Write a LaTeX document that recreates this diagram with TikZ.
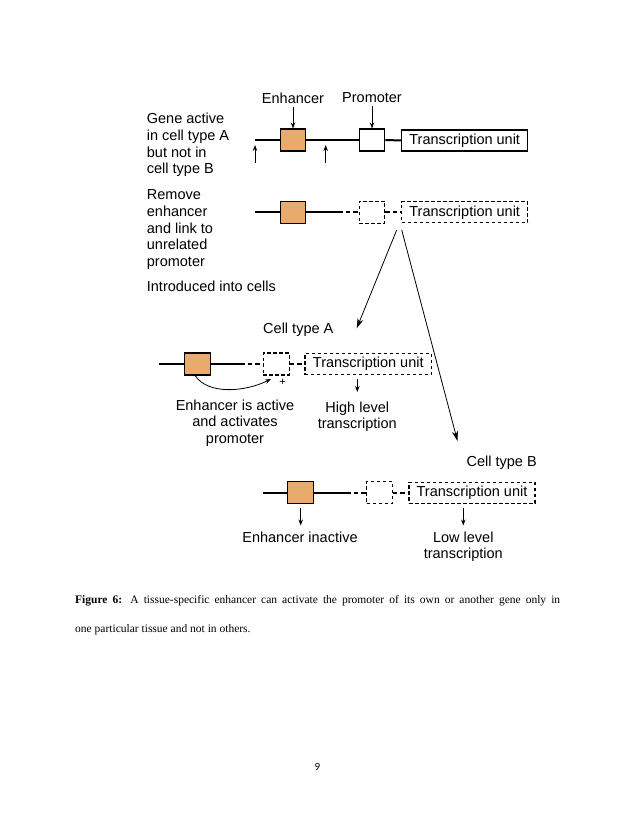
\documentclass[tikz,border=0pt]{standalone}
\usepackage{fontspec}
\setmainfont{Liberation Sans}
\newfontfamily\capfont{Liberation Serif}
\newfontfamily\pgfont{Carlito}
\usetikzlibrary{arrows.meta,calc}
\definecolor{enhcol}{RGB}{233,170,110}
\tikzset{
  lbl/.style={font=\fontsize{14.5}{16.7}\selectfont, inner sep=0pt},
  enh/.style={draw, line width=1.1pt, fill=enhcol, minimum width=25.7pt, minimum height=22pt, inner sep=0pt},
  prom/.style={draw, line width=1.1pt, fill=white, minimum width=25.7pt, minimum height=22pt, inner sep=0pt},
  tu/.style={draw, line width=1.1pt, fill=white, minimum width=126pt, minimum height=21pt, inner sep=0pt, font=\fontsize{14.5}{16.7}\selectfont},
  dbox/.style={dash pattern=on 3.5pt off 2.5pt},
  dna/.style={line width=2pt},
  ddna/.style={line width=2pt, dash pattern=on 4.5pt off 3pt},
  arr/.style={line width=0.9pt, -{Stealth[length=6pt,width=4.5pt]}},
  longarr/.style={line width=0.8pt, -{Stealth[length=10pt,width=6pt]}},
}
\begin{document}
\begin{tikzpicture}[x=1pt,y=-1pt]
\useasboundingbox (0,0) rectangle (638,826);
\fill[white] (0,0) rectangle (638,826);

% ---------- Row 1 ----------
\node[lbl] (lenh) at (293,98) {Enhancer};
\node[lbl] (lprom) at (372,98) {Promoter};
\coordinate (s1) at (255,140);
\node[enh] (enh1) at (293,140) {};
\node[prom] (prom1) at (372,140) {};
\node[tu] (tu1) at (464.7,140.5) {Transcription unit};
\draw[dna] (s1) -- (enh1.west);
\draw[dna] (enh1.east) -- (prom1.west);
\draw[dna] (prom1.east) -- (tu1.west);
\draw[arr] (lenh.south) ++(0,3) -- (enh1.north);
\draw[arr] (lprom.south) ++(0,3) -- (prom1.north);
\coordinate (u1a) at (255,163); \coordinate (u1b) at (255,145);
\coordinate (u2a) at (325.7,163); \coordinate (u2b) at (325.7,145);
\draw[arr] (u1a) -- (u1b);
\draw[arr] (u2a) -- (u2b);

\node[lbl, align=left, anchor=north west] (t1) at (146.7,113) {Gene active\\in cell type A\\but not in\\cell type B};
\node[lbl, align=left, anchor=north west] (t2) at (146.7,189.7) {Remove\\enhancer\\and link to\\unrelated\\promoter};
\node[lbl, anchor=west] (t3) at (146.7,286.7) {Introduced into cells};

% ---------- Row 2 ----------
\coordinate (s2) at (255,212.3);
\coordinate (d2) at (338.3,212.3);
\node[enh] (enh2) at (293,212.3) {};
\node[prom,dbox] (prom2) at (372,212.3) {};
\node[tu,dbox] (tu2) at (464.7,212.3) {Transcription unit};
\draw[dna] (s2) -- (enh2.west);
\draw[dna] (enh2.east) -- (d2);
\draw[ddna] (d2) -- (prom2.west);
\draw[ddna] (prom2.east) -- (tu2.west);

\coordinate (f1) at (396.7,230);
\coordinate (f2) at (401.7,230);
\coordinate (tipA) at (356.7,328.3);
\coordinate (tipB) at (457.5,441);
\draw[longarr] (f1) -- (tipA);
\draw[longarr] (f2) -- (tipB);

% ---------- Cell type A ----------
\node[lbl] (cA) at (298.3,330) {Cell type A};
\coordinate (sA) at (159.3,364);
\coordinate (dA) at (240,364);
\node[enh] (enhA) at (197.5,364) {};
\node[prom,dbox] (promA) at (276.2,364) {};
\node[tu,dbox, minimum width=126.7pt] (tuA) at (368.3,364) {Transcription unit};
\draw[dna] (sA) -- (enhA.west);
\draw[dna] (enhA.east) -- (dA);
\draw[ddna] (dA) -- (promA.west);
\draw[ddna] (promA.east) -- (tuA.west);
\coordinate (cstart) at (195,375.5);
\coordinate (cend) at (271,379);
\draw[line width=0.8pt, -{Stealth[length=6pt,width=4.5pt]}] (cstart) .. controls (208,395) and (245,392) .. (cend);
\node[font=\fontsize{11}{12}\selectfont, inner sep=0pt] (plus) at (282.7,382.7) {+};
\coordinate (aA1) at (357.3,379.3); \coordinate (aA2) at (357.3,392);
\draw[arr] (aA1) -- (aA2);
\node[lbl, align=center, anchor=north] (tA) at (235,399.5) {Enhancer is active\\and activates\\promoter};
\node[lbl, align=center, anchor=north] (hA) at (357.3,401.3) {High level\\transcription};

% ---------- Cell type B ----------
\node[lbl] (cB) at (501.7,462.7) {Cell type B};
\coordinate (sB) at (262.7,492.7);
\coordinate (dB) at (346,492.7);
\node[enh] (enhB) at (300.5,492.7) {};
\node[prom,dbox] (promB) at (379.5,492.7) {};
\node[tu,dbox] (tuB) at (472,492.7) {Transcription unit};
\draw[dna] (sB) -- (enhB.west);
\draw[dna] (enhB.east) -- (dB);
\draw[ddna] (dB) -- (promB.west);
\draw[ddna] (promB.east) -- (tuB.west);
\coordinate (aB1) at (300.7,508); \coordinate (aB2) at (300.7,525.5);
\draw[arr] (aB1) -- (aB2);
\coordinate (aB3) at (463.3,508); \coordinate (aB4) at (463.3,525.5);
\draw[arr] (aB3) -- (aB4);
\node[lbl] (tB) at (300,537.3) {Enhancer inactive};
\node[lbl, align=center, anchor=north] (lB) at (463.3,531.3) {Low level\\transcription};

% ---------- Caption ----------
\node[anchor=base west, inner sep=0pt, font=\capfont\fontsize{11.5}{13}\selectfont] (cap1) at (75,603) {\makebox[485pt][s]{\textbf{Figure 6:} A tissue-specific enhancer can activate the promoter of its own or another gene only in}};
\node[anchor=base west, inner sep=0pt, font=\capfont\fontsize{11.5}{13}\selectfont] (cap2) at (75,632) {one particular tissue and not in others.};
\node[inner sep=0pt, font=\pgfont\fontsize{11}{13}\selectfont] (pg) at (317.3,767.3) {9};
\end{tikzpicture}
\end{document}
